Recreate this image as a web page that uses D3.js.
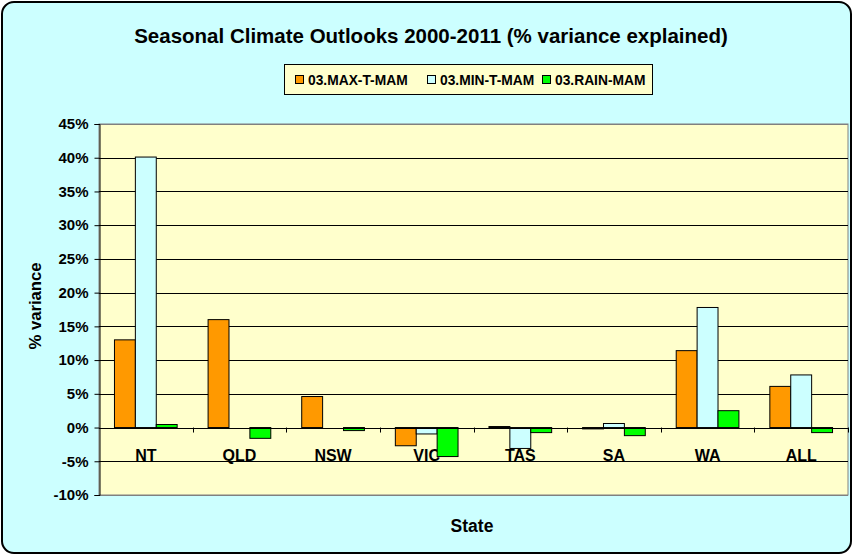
<!DOCTYPE html>
<html>
<head>
<meta charset="utf-8">
<script src="https://cdn.jsdelivr.net/npm/d3@7"></script>
<style>
  body { margin: 0; background: #fff; }
  svg text { font-family: Arial, "Liberation Sans", sans-serif; font-weight: bold; }
</style>
</head>
<body>
<svg id="chart"></svg>
<script>
const states = ["NT", "QLD", "NSW", "VIC", "TAS", "SA", "WA", "ALL"];
const seriesNames = ["03.MAX-T-MAM", "03.MIN-T-MAM", "03.RAIN-MAM"];
const maxT = [13.0, 16.0, 4.6, -2.7, 0.15, -0.2, 11.4, 6.1];
const minT = [40.1, 0, 0, -0.95, -3.1, 0.6, 17.8, 7.8];
const rain = [0.45, -1.6, -0.45, -4.3, -0.75, -1.2, 2.5, -0.75];
const yTicks = [-10, -5, 0, 5, 10, 15, 20, 25, 30, 35, 40, 45];
const colors = ["#FF9900", "#CCFFFF", "#00FF00"];

const width = 854, height = 556;
const plot = { left: 99, right: 848, top: 124, bottom: 495 };

const svg = d3.select("#chart").attr("width", width).attr("height", height);

// outer chart frame
svg.append("rect")
    .attr("x", 2).attr("y", 2)
    .attr("width", width - 5).attr("height", height - 5)
    .attr("rx", 12).attr("ry", 12)
    .attr("fill", "#CCFFFF")
    .attr("stroke", "#000")
    .attr("stroke-width", 2);

svg.append("text")
    .attr("x", 431).attr("y", 42.5)
    .attr("text-anchor", "middle")
    .style("font-size", "20.5px")
    .text("Seasonal Climate Outlooks 2000-2011 (% variance explained)");

const x0 = d3.scaleBand().domain(states).range([plot.left, plot.right]);
const x1 = d3.scaleBand().domain(seriesNames).range([0, x0.bandwidth()]).paddingOuter(0.74).paddingInner(0);
const y = d3.scaleLinear().domain([-10, 45]).range([plot.bottom, plot.top]);

// plot background
svg.append("rect")
    .attr("x", plot.left).attr("y", plot.top)
    .attr("width", plot.right - plot.left).attr("height", plot.bottom - plot.top)
    .attr("fill", "#FFFFCC")
    .attr("stroke", "#808080");

// gridlines
svg.append("g")
    .selectAll("line")
    .data(yTicks)
    .join("line")
    .attr("x1", plot.left).attr("x2", plot.right)
    .attr("y1", d => Math.round(y(d)) + 0.5).attr("y2", d => Math.round(y(d)) + 0.5)
    .attr("stroke", d => d === 45 || d === -10 ? "#808080" : "#000")
    .attr("stroke-width", 1);

// y axis
const yAxis = svg.append("g")
    .attr("transform", `translate(${plot.left + 0.5},0)`)
    .call(d3.axisLeft(y).tickValues(yTicks).tickFormat(d => d + "%").tickSizeOuter(0).tickSize(5).tickPadding(6));
yAxis.select(".domain").attr("stroke", "#000");
yAxis.selectAll("text").style("font-size", "15px").attr("fill", "#000");

// category labels (behind bars)
svg.append("g")
    .selectAll("text")
    .data(states)
    .join("text")
    .attr("x", d => x0(d) + x0.bandwidth() / 2)
    .attr("y", 460.5)
    .attr("text-anchor", "middle")
    .style("font-size", "16px")
    .text(d => d);

// bars
const values = [maxT, minT, rain];
const barData = [];
states.forEach((s, i) => {
    seriesNames.forEach((n, j) => barData.push({ state: s, series: n, value: values[j][i], color: colors[j] }));
});

svg.append("g")
    .selectAll("rect")
    .data(barData)
    .join("rect")
    .attr("x", d => x0(d.state) + x1(d.series))
    .attr("y", d => y(Math.max(0, d.value)))
    .attr("width", x1.bandwidth())
    .attr("height", d => Math.abs(y(d.value) - y(0)))
    .attr("fill", d => d.color)
    .attr("stroke", "#000")
    .attr("stroke-width", 1);

// x axis line with ticks at category boundaries
svg.append("line")
    .attr("x1", plot.left).attr("x2", plot.right)
    .attr("y1", Math.round(y(0)) + 0.5).attr("y2", Math.round(y(0)) + 0.5)
    .attr("stroke", "#000");
svg.append("g")
    .selectAll("line")
    .data(states.slice(1).concat(["end"]))
    .join("line")
    .attr("x1", (d, i) => Math.round(plot.left + (i + 1) * x0.bandwidth()) + 0.5)
    .attr("x2", (d, i) => Math.round(plot.left + (i + 1) * x0.bandwidth()) + 0.5)
    .attr("y1", y(0)).attr("y2", y(0) + 5)
    .attr("stroke", "#000");

// axis titles
svg.append("text")
    .attr("transform", "translate(41,306) rotate(-90)")
    .attr("text-anchor", "middle")
    .style("font-size", "16.7px")
    .text("% variance");

svg.append("text")
    .attr("x", 472).attr("y", 531.5)
    .attr("text-anchor", "middle")
    .style("font-size", "17.5px")
    .text("State");

// legend
const legend = svg.append("g");
legend.append("rect")
    .attr("x", 284.5).attr("y", 64.5)
    .attr("width", 368).attr("height", 30)
    .attr("fill", "#FFFFCC")
    .attr("stroke", "#000");
const legendX = [295, 427, 542];
seriesNames.forEach((n, j) => {
    legend.append("rect")
        .attr("x", legendX[j] + 0.5).attr("y", 75.5)
        .attr("width", 8).attr("height", 8)
        .attr("fill", colors[j])
        .attr("stroke", "#000");
    legend.append("text")
        .attr("x", legendX[j] + 13).attr("y", 85)
        .style("font-size", "13.8px")
        .text(n);
});
</script>
</body>
</html>
